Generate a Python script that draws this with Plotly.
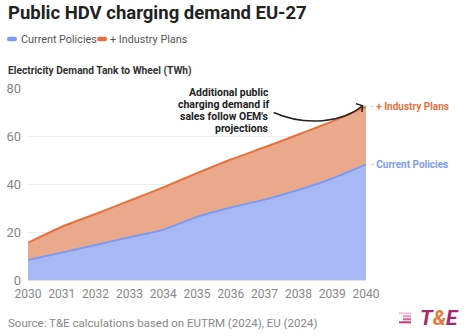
import plotly.graph_objects as go

years = [2030, 2031, 2032, 2033, 2034, 2035, 2036, 2037, 2038, 2039, 2040]
current_policies = [8.3, 11.4, 14.6, 17.8, 20.9, 26.3, 30.2, 33.5, 37.5, 42.3, 48.2]
industry_extra = [7.2, 10.8, 12.9, 15.2, 17.7, 18.2, 20.0, 21.8, 23.1, 23.8, 24.0]
y_ticks = [0, 20, 40, 60, 80]
note_lines = ["Additional public", "charging demand if", "sales follow OEM's", "projections"]

BLUE_LINE = "#7d9bf2"
BLUE_FILL = "#a7b9f4"
ORANGE_LINE = "#e8703c"
ORANGE_FILL = "#e9a98a"
FONT = "Roboto"

PL, PR, PT, PB = 28, 99, 88, 56
PW, PH = 465 - PL - PR, 336 - PT - PB


def px(x):
    return (x - PL) / PW


def py(y):
    return (336 - PB - y) / PH


fig = go.Figure()
fig.add_trace(go.Scatter(
    x=years, y=current_policies, name="Current Policies", stackgroup="one",
    mode="lines", line=dict(color=BLUE_LINE, width=2, shape="spline", smoothing=0.5),
    fillcolor=BLUE_FILL, hoverinfo="skip", showlegend=False))
fig.add_trace(go.Scatter(
    x=years, y=industry_extra, name="+ Industry Plans", stackgroup="one",
    mode="lines", line=dict(color=ORANGE_LINE, width=2, shape="spline", smoothing=0.5),
    fillcolor=ORANGE_FILL, hoverinfo="skip", showlegend=False))

total_end = current_policies[-1] + industry_extra[-1]

fig.update_layout(
    width=465, height=336,
    margin=dict(l=PL, r=PR, t=PT, b=PB, autoexpand=False),
    paper_bgcolor="white", plot_bgcolor="white",
    font=dict(family=FONT, color="#888888", size=12),
    title=dict(text="<b>Public HDV charging demand EU-27</b>", xref="container", yref="container",
               x=8/465, xanchor="left", y=1-13/336, yanchor="middle",
               font=dict(size=18.5, color="#222222", family=FONT)),
    showlegend=False,
    xaxis=dict(range=[2030, 2040], tickvals=years, ticktext=[str(y) for y in years],
               showgrid=False, zeroline=False, showline=False, ticks="", automargin=False,
               tickfont=dict(size=12, color="#888888"), ticklabelstandoff=5, fixedrange=True),
    yaxis=dict(range=[0, 80], tickvals=y_ticks, showgrid=True, gridcolor="#ececec",
               gridwidth=1, zeroline=True, zerolinecolor="#dddddd", showline=False, ticks="",
               automargin=False,
               tickfont=dict(size=13, color="#888888"), ticklabelstandoff=6, fixedrange=True),
)

annotations = [
    dict(text="<b>Electricity Demand Tank to Wheel (TWh)</b>", xref="paper", yref="paper",
         x=px(6), y=py(71), xanchor="left", yanchor="middle", showarrow=False,
         font=dict(size=10.2, color="#333333", family=FONT)),
    # legend
    dict(text="Current Policies", xref="paper", yref="paper", x=px(19), y=py(39),
         xanchor="left", yanchor="middle", showarrow=False,
         font=dict(size=10.8, color="#555555", family=FONT)),
    dict(text="+ Industry Plans", xref="paper", yref="paper", x=px(108), y=py(39),
         xanchor="left", yanchor="middle", showarrow=False,
         font=dict(size=10.8, color="#555555", family=FONT)),
    dict(text="<span style='color:#f0b89c'>- </span><b>+ Industry Plans</b>", xref="x", yref="y",
         x=2040, y=total_end, xanchor="left", yanchor="middle", xshift=3, showarrow=False,
         font=dict(size=10, color=ORANGE_LINE, family=FONT)),
    dict(text="<span style='color:#b9c8f7'>- </span><b>Current Policies</b>", xref="x", yref="y",
         x=2040, y=current_policies[-1], xanchor="left", yanchor="middle", xshift=3, showarrow=False,
         font=dict(size=10, color=BLUE_LINE, family=FONT)),
    dict(text="Source: T&E calculations based on EUTRM (2024), EU (2024)", xref="paper", yref="paper",
         x=px(6), y=py(323), xanchor="left", yanchor="middle", showarrow=False,
         font=dict(size=11.5, color="#888888", family=FONT)),
    dict(text="<b><i><span style='color:#a3286f'>T</span><span style='color:#e8783a'>&</span>"
              "<span style='color:#a3286f'>E</span></i></b>", xref="paper", yref="paper",
         x=px(461), y=py(318), xanchor="right", yanchor="middle", showarrow=False,
         font=dict(size=21, family=FONT)),
]
for i, line in enumerate(note_lines):
    annotations.append(dict(text=f"<b>{line}</b>", xref="paper", yref="paper",
                            x=px(271), y=py(92 + 12 * i), xanchor="right", yanchor="middle",
                            showarrow=False, font=dict(size=10.5, color="#222222", family=FONT)))
fig.update_layout(annotations=annotations)

# legend pills
for x0, c in [(7, BLUE_LINE), (97, ORANGE_LINE)]:
    x1 = x0 + 10
    fig.add_shape(type="path", xref="paper", yref="paper",
                  path=(f"M {px(x0+2)},{py(36.8)} L {px(x1-2)},{py(36.8)} "
                        f"Q {px(x1)},{py(36.8)} {px(x1)},{py(39)} "
                        f"Q {px(x1)},{py(41.2)} {px(x1-2)},{py(41.2)} "
                        f"L {px(x0+2)},{py(41.2)} "
                        f"Q {px(x0)},{py(41.2)} {px(x0)},{py(39)} "
                        f"Q {px(x0)},{py(36.8)} {px(x0+2)},{py(36.8)} Z"),
                  fillcolor=c, line=dict(width=0))

# curved arrow (annotation decoration)
tip_x, tip_y = 2039.9, 72.6
fig.add_shape(type="path", xref="x", yref="y",
              path=f"M 2037.27,69.8 C 2038.2,64.0 2039.3,65.5 {tip_x},{tip_y}",
              line=dict(color="#222222", width=1.5))
fig.add_shape(type="path", xref="x", yref="y",
              path=f"M {tip_x-0.2},{tip_y+0.9} L {tip_x},{tip_y} L {tip_x-0.02},{tip_y-2.6}",
              line=dict(color="#222222", width=1.5))

# logo stripes
stripe_colors = ["#f3c3d5", "#ea94b6", "#d65f95", "#b93b7c"]
stripe_starts = [399, 403, 403, 399]
for i, c in enumerate(stripe_colors):
    yy = 313.3 + i * 3.0
    fig.add_shape(type="line", xref="paper", yref="paper",
                  x0=px(stripe_starts[i]), x1=px(411), y0=py(yy), y1=py(yy),
                  line=dict(color=c, width=2))

fig.write_html("out.html")
